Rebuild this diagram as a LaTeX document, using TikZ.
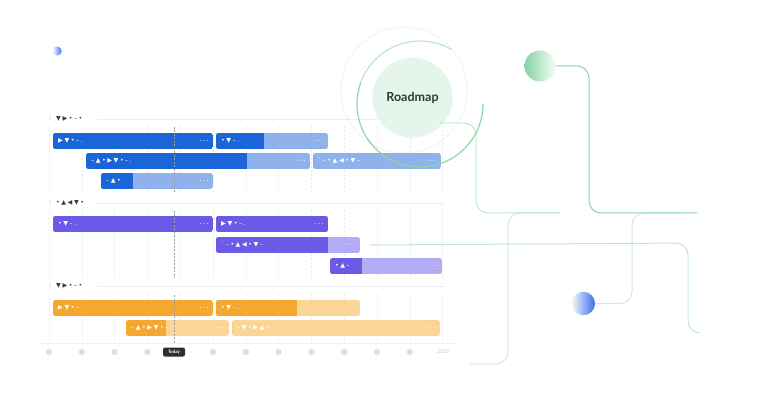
\documentclass[tikz,border=0pt]{standalone}
\usepackage{fontspec}
\setmainfont{Lato}
\newfontfamily\glyphs[LetterSpace=25]{DejaVu Sans}
\usetikzlibrary{positioning}

\definecolor{bluedark}{HTML}{1A66D9}
\definecolor{bluelight}{HTML}{8FB2EC}
\definecolor{purpledark}{HTML}{6A5AE6}
\definecolor{purplelight}{HTML}{B3ACF5}
\definecolor{orangedark}{HTML}{F5A830}
\definecolor{orangelight}{HTML}{FAD596}
\definecolor{linegreen}{HTML}{8ED6A8}
\definecolor{roadfill}{HTML}{E5F5EB}
\definecolor{roadtext}{HTML}{2C3A35}
\definecolor{headgray}{HTML}{3A3F47}
\definecolor{todaydark}{HTML}{2A2E35}
\definecolor{dotgreen}{HTML}{86D3A2}
\definecolor{dotblue}{HTML}{3B6FE9}

% name, x start, x end, x split, y top, dark, light, label
\newcommand{\roadbar}[8]{%
  \begin{scope}
    \clip[rounded corners=2.5pt] (#2,#5) rectangle (#3,#5+16);
    \fill[#7] (#2,#5) rectangle (#3,#5+16);
    \fill[#6] (#2,#5) rectangle (#4,#5+16);
  \end{scope}
  \node (#1) at (#2+5,#5+8) [barlabel] {#8};
  \node (#1-more) at (#3-4,#5+8) [bardots] {•••};
  \coordinate (#1-end) at (#3,#5+8);
}

\begin{document}
\begin{tikzpicture}[x=1pt, y=-1pt,
    barlabel/.style={anchor=west, inner sep=0pt, text=white, font=\glyphs\fontsize{6.2}{7}\selectfont},
    bardots/.style={anchor=east, inner sep=0pt, text=white, opacity=0.65, font=\glyphs\fontsize{4.2}{5}\selectfont},
    header/.style={anchor=west, inner sep=0pt, text=headgray, font=\glyphs\fontsize{6.2}{7}\selectfont},
    grip/.style={inner sep=0pt, text=gray!35, font=\glyphs\fontsize{5}{5}\selectfont},
    gridline/.style={gray!18, line width=0.4pt, dash pattern=on 2pt off 2pt},
    sepline/.style={gray!14, line width=0.8pt},
    todayline/.style={gray!75, line width=0.5pt, dash pattern=on 2pt off 1.5pt},
    axisdot/.style={circle, fill=gray!25, minimum size=6.4pt, inner sep=0pt},
    wire/.style={linegreen, line width=1pt, rounded corners=12pt}]
    \useasboundingbox (0,0) rectangle (774,414);

    % grid
    \foreach \k in {0,...,12} {
        \draw[gridline] (49+32.8*\k,126) -- (49+32.8*\k,193);
        \draw[gridline] (49+32.8*\k,210) -- (49+32.8*\k,279);
        \draw[gridline] (49+32.8*\k,294) -- (49+32.8*\k,343);
    }

    % headers
    \node (grip1) at (50,119) [grip] {↕};
    \node (head1) at (56,119) [header] {▼▶•–•};
    \draw[sepline] (97,119) -- (445,119);
    \node (grip2) at (50,203) [grip] {↕};
    \node (head2) at (56,203) [header] {•▲◀▼•};
    \draw[sepline] (97,203) -- (445,203);
    \node (grip3) at (50,286) [grip] {↕};
    \node (head3) at (56,286) [header] {▼▶•–•};
    \draw[sepline] (97,286) -- (445,286);

    % bars
    \roadbar{taskA}{53}{213}{213}{133}{bluedark}{bluelight}{▶▼•–.}
    \roadbar{taskB}{216}{328}{264}{133}{bluedark}{bluelight}{•▼–.}
    \roadbar{taskC}{86}{310}{247}{153}{bluedark}{bluelight}{–▲•▶▼•–.}
    \roadbar{taskD}{313}{441}{313}{153}{bluedark}{bluelight}{˙–•▲◀•▼–}
    \roadbar{taskE}{101}{213}{133}{173}{bluedark}{bluelight}{–▲•}
    \roadbar{taskF}{53}{213}{213}{216}{purpledark}{purplelight}{•▼–.}
    \roadbar{taskG}{216}{328}{328}{216}{purpledark}{purplelight}{▶▼•–.}
    \roadbar{taskH}{216}{360}{328}{237}{purpledark}{purplelight}{˙–•▲◀•▼–}
    \roadbar{taskI}{330}{442}{362}{258}{purpledark}{purplelight}{•▲–}
    \roadbar{taskJ}{53}{213}{213}{300}{orangedark}{orangelight}{▶▼•–.}
    \roadbar{taskK}{216}{360}{297}{300}{orangedark}{orangelight}{•▼–.}
    \roadbar{taskL}{126}{229}{166}{320}{orangedark}{orangelight}{–▲•▶▼•–.}
    \roadbar{taskM}{232}{440}{232}{320}{orangedark}{orangelight}{–▼•▶▲•–˙}

    % today
    \draw[todayline] (174,127) -- (174,192);
    \draw[todayline] (174,211) -- (174,278);
    \draw[todayline] (174,295) -- (174,343);

    % axis
    \draw[gray!12, line width=1pt] (39,343) -- (455,343);
    \foreach \k in {0,...,11}
        \node (tick\k) at (49+32.8*\k,352) [axisdot] {};
    \node (today) at (174,352) [fill=todaydark, rounded corners=2pt, text=white, inner sep=0pt,
        minimum width=22pt, minimum height=9pt, font=\bfseries\fontsize{4.5}{5}\selectfont] {Today};
    \node (year) at (443,352) [inner sep=0pt, text=gray!45, font=\fontsize{5}{5}\selectfont] {2020};

    % roadmap badge
    \draw[linegreen, opacity=0.2, line width=0.8pt] (404,90) circle[radius=63];
    \draw[linegreen, line width=1.2pt] (483,104) arc[start angle=0, end angle=200, radius=63];
    \draw[linegreen, opacity=0.6, line width=1.2pt] (420,104) ++(200:63) arc[start angle=200, end angle=300, radius=63];
    \node (roadmap) at (412.5,97.7) [circle, fill=roadfill, minimum size=80pt, text=roadtext,
        font=\bfseries\fontsize{12.5}{13}\selectfont] {Roadmap};

    % dots
    \node (sdot) at (57,51) [circle, inner sep=0pt, minimum size=9.4pt, left color=white, right color=dotblue] {};
    \node (gdot) at (540,66) [circle, inner sep=0pt, minimum size=31pt, left color=dotgreen, right color=dotgreen!8] {};
    \node (bdot) at (583.3,303.5) [circle, inner sep=0pt, minimum size=23.5pt, left color=dotblue!5, right color=dotblue] {};

    % wires
    \coordinate (frame) at (440,123);
    \coordinate (mainend) at (697,213);
    \coordinate (dropstart) at (560,213);
    \coordinate (dropend) at (470,364);
    \coordinate (bluestart) at (680,213);
    \coordinate (lowend) at (700,333);
    \draw[wire] (gdot.east) -- (589,66) -- (589,213) -- (mainend);
    \draw[wire, opacity=0.55] (frame) -- (476,123) -- (476,213) -- (dropstart);
    \draw[wire, opacity=0.45] (dropstart) -- (508,213) -- (508,364) -- (dropend);
    \draw[wire, opacity=0.45] (bdot.east) -- (632,303.5) -- (632,213) -- (bluestart);
    \draw[wire, opacity=0.55] ([xshift=10pt]taskH-end) -- (688,243) -- (688,333) -- (lowend);
\end{tikzpicture}
\end{document}
